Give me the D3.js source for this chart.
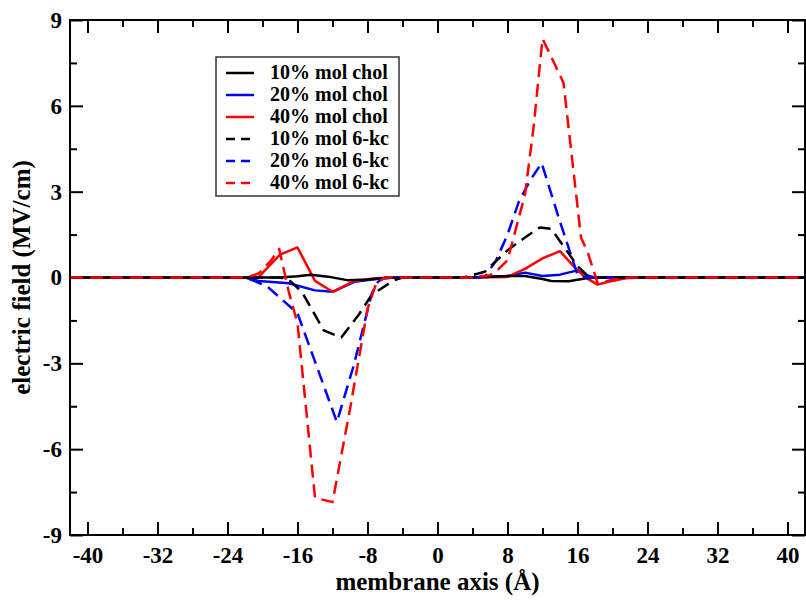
<!DOCTYPE html>
<html>
<head>
<meta charset="utf-8">
<script src="https://cdn.jsdelivr.net/npm/d3@7"></script>
<style>
  body { margin: 0; background: #fff; }
  svg { display: block; }
  text { font-family: "Liberation Serif", "Times New Roman", serif; font-weight: bold; }
</style>
</head>
<body>
<svg id="chart"></svg>
<script>
// tick values
var xMajor = [-40, -32, -24, -16, -8, 0, 8, 16, 24, 32, 40];
var xMinor = [-36, -28, -20, -12, -4, 4, 12, 20, 28, 36];
var yMajor = [-9, -6, -3, 0, 3, 6, 9];
var yMinor = [-7.5, -4.5, -1.5, 1.5, 4.5, 7.5];

// series, [membrane axis (Å), electric field (MV/cm)]
var chol10 = [[-42,0],[-22,0],[-18,0],[-16,0.04],[-14.5,0.1],[-12.5,0.03],[-10.2,-0.1],[-8,-0.07],[-6,-0.02],[-4,0],[4,0],[8,0.05],[10,0.05],[12,-0.05],[13,-0.12],[15,-0.13],[17,-0.03],[18,0],[42,0]];
var chol20 = [[-42,0],[-22,0],[-21.5,-0.05],[-20.4,-0.12],[-17,-0.2],[-14,-0.45],[-12,-0.5],[-9.5,-0.15],[-7,-0.05],[-5,0],[4,0],[8,0.05],[10,0.17],[12,0.05],[14,0.1],[16,0.25],[17,0.08],[18,0],[42,0]];
var chol40 = [[-42,0],[-22,0],[-20.4,0.03],[-18,0.8],[-16,1.05],[-14,-0.12],[-12,-0.5],[-9.5,-0.12],[-7,-0.03],[-5,0],[3,0],[8,0.02],[10,0.3],[12,0.67],[14,0.92],[15.6,0.38],[16.8,0.02],[18.3,-0.25],[19.5,-0.15],[21.5,-0.03],[23,0],[42,0]];
var kc10 = [[-42,0],[-18,0],[-17,-0.08],[-15.5,-0.5],[-13,-1.85],[-11,-2.1],[-9,-1.3],[-7.5,-0.6],[-6,-0.3],[-5,-0.1],[-4,0],[3,0],[5.4,0.2],[8,0.95],[10,1.4],[11.7,1.75],[13,1.7],[14,1.27],[16,0.4],[17.3,0.02],[18,0],[42,0]];
var kc20 = [[-42,0],[-22,0],[-21.5,-0.05],[-19.5,-0.3],[-16,-1.25],[-11.5,-5.05],[-9.6,-3.1],[-7.5,-0.55],[-6.8,-0.15],[-6,0],[4.5,0],[5.5,0.05],[6.7,0.6],[8,1.5],[9.3,2.65],[10.6,3.4],[11.9,4.0],[14,1.95],[16,0.1],[17,0],[42,0]];
var kc40 = [[-42,0],[-22,0],[-21.5,0.03],[-20.4,0.15],[-19,0.6],[-18.1,1.0],[-17,-0.5],[-16,-1.6],[-14,-7.7],[-12,-7.85],[-10,-4.6],[-8,-1.1],[-7,-0.2],[-6,0],[4,0],[6,0.08],[7,0.3],[8,0.6],[10,2.9],[11,5.3],[12,8.35],[13.8,7.2],[14.4,6.8],[16.4,1.4],[17.2,0.85],[18.3,-0.2],[20,-0.08],[22,0],[42,0]];

var legendLabels = ["10% mol chol", "20% mol chol", "40% mol chol", "10% mol 6-kc", "20% mol 6-kc", "40% mol 6-kc"];
var seriesColors = ["#000000", "#0000ff", "#ff0000", "#000000", "#0000ff", "#ff0000"];
var seriesDashed = [false, false, false, true, true, true];
var seriesData = [chol10, chol20, chol40, kc10, kc20, kc40];

var width = 806, height = 600;
var margin = {top: 20, right: 1, bottom: 65, left: 70};

var svg = d3.select('#chart')
    .attr('width', width)
    .attr('height', height);

var x = d3.scaleLinear().domain([-42, 42]).range([margin.left, width - margin.right]);
var y = d3.scaleLinear().domain([-9, 9]).range([height - margin.bottom, margin.top]);

var plotBottom = y.range()[0], plotTop = y.range()[1];
var plotLeft = x.range()[0], plotRight = x.range()[1];

svg.append('clipPath').attr('id', 'clip')
    .append('rect')
    .attr('x', plotLeft).attr('y', plotTop)
    .attr('width', plotRight - plotLeft)
    .attr('height', plotBottom - plotTop);

// draw an axis with inward ticks, no domain line
function tickAxis(axis, tx, ty, values, size, labels) {
    var g = svg.append('g')
        .attr('transform', 'translate(' + tx + ',' + ty + ')')
        .call(axis.tickValues(values).tickSize(size).tickSizeOuter(0).tickPadding(10)
            .tickFormat(labels ? (d => String(d)) : ''));
    g.select('.domain').remove();
    g.selectAll('.tick line').attr('stroke', '#000').attr('stroke-width', 2);
    g.selectAll('.tick text').attr('font-size', 23).attr('fill', '#000')
        .attr('font-family', '"Liberation Serif", serif');
    return g;
}

var gx = tickAxis(d3.axisBottom(x), 0, plotBottom, xMajor, -13, true);
gx.selectAll('.tick text').attr('y', 12).attr('dy', '0.71em');
tickAxis(d3.axisBottom(x), 0, plotBottom, xMinor, -7, false);
tickAxis(d3.axisTop(x), 0, plotTop, xMajor, -13, false);
tickAxis(d3.axisTop(x), 0, plotTop, xMinor, -7, false);

var gy = tickAxis(d3.axisLeft(y), plotLeft, 0, yMajor, -13, true);
gy.selectAll('.tick text').attr('x', -8);
tickAxis(d3.axisLeft(y), plotLeft, 0, yMinor, -7, false);
tickAxis(d3.axisRight(y), plotRight, 0, yMajor, -13, false);
tickAxis(d3.axisRight(y), plotRight, 0, yMinor, -7, false);

// lines
var line = d3.line().x(d => x(d[0])).y(d => y(d[1]));
var plot = svg.append('g').attr('clip-path', 'url(#clip)');
var order = [1, 2, 0, 4, 3, 5];
order.forEach(function (i) {
    plot.append('path')
        .datum(seriesData[i])
        .attr('d', line)
        .attr('fill', 'none')
        .attr('stroke', seriesColors[i])
        .attr('stroke-width', 2.5)
        .attr('stroke-linejoin', 'round')
        .attr('stroke-dasharray', seriesDashed[i] ? '13,7' : null);
});

// frame
svg.append('rect')
    .attr('x', plotLeft).attr('y', plotTop)
    .attr('width', plotRight - plotLeft).attr('height', plotBottom - plotTop)
    .attr('fill', 'none').attr('stroke', '#000').attr('stroke-width', 2);

// axis titles
svg.append('text')
    .attr('x', (plotLeft + plotRight) / 2).attr('y', 590)
    .attr('text-anchor', 'middle').attr('font-size', 25)
    .text('membrane axis (Å)');

svg.append('text')
    .attr('transform', 'translate(30,' + ((plotTop + plotBottom) / 2) + ') rotate(-90)')
    .attr('text-anchor', 'middle').attr('font-size', 25)
    .text('electric field (MV/cm)');

// legend
var legend = svg.append('g');
legend.append('rect')
    .attr('x', 216).attr('y', 57).attr('width', 183).attr('height', 139)
    .attr('fill', '#fff').attr('stroke', '#333').attr('stroke-width', 1.5);
legendLabels.forEach(function (label, i) {
    var ly = 73 + i * 22;
    legend.append('line')
        .attr('x1', 226).attr('x2', 254).attr('y1', ly).attr('y2', ly)
        .attr('stroke', seriesColors[i]).attr('stroke-width', 2.5)
        .attr('stroke-dasharray', seriesDashed[i] ? '9,6' : null);
    legend.append('text')
        .attr('x', 270).attr('y', ly + 6)
        .attr('font-size', 20)
        .text(label);
});
</script>
</body>
</html>
